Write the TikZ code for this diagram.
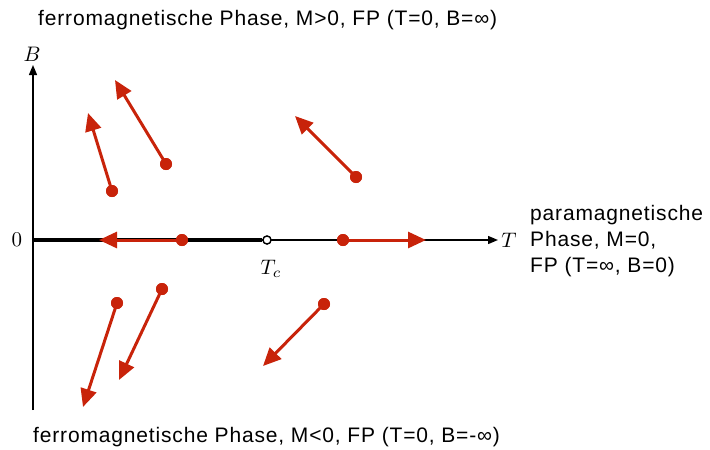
\documentclass[tikz,border=0pt]{standalone}
\usepackage{fontspec}
\setsansfont{Liberation Sans}[LetterSpace=4]
\usetikzlibrary{arrows.meta}
\definecolor{flowred}{RGB}{200,35,10}
\tikzset{
  axis/.style={line width=1.4pt,-{Triangle[length=10pt,width=8pt]}},
  flow/.style={flowred,line width=3pt,-{Triangle[length=18pt,width=16pt]}},
  dot/.style={circle,fill=flowred,inner sep=0pt,minimum size=12pt},
  fixp/.style={circle,draw=black,fill=white,line width=1.3pt,inner sep=0pt,minimum size=8pt},
  lbl/.style={font=\sffamily\fontsize{21}{26}\selectfont,inner sep=0pt},
  mlbl/.style={inner sep=0pt,scale=2.1}
}
\begin{document}
\begin{tikzpicture}[x=1pt,y=-1pt]
\useasboundingbox (0,0) rectangle (710,450);
\coordinate (o) at (33,240);
\coordinate (ytop) at (33,65);
\coordinate (ybot) at (33,410);
\coordinate (xend) at (498,240);
\draw[axis] (ybot) -- (ytop);
\draw[axis] (o) -- (xend);
\node[fixp] (tc) at (267,240) {};
\draw[line width=3.5pt] (o) -- (tc.west);
\node[mlbl] (lB) at (32,54) {$B$};
\node[mlbl] (lT) at (509,240) {$T$};
\node[mlbl] (l0) at (17,240) {$0$};
\node[mlbl] (lTc) at (271,269) {$T_c$};
% flow arrows
\node[dot] (d1) at (112,191) {}; \coordinate (t1) at (88,113);
\node[dot] (d2) at (166,164) {}; \coordinate (t2) at (115,80);
\node[dot] (d3) at (356,177) {}; \coordinate (t3) at (295,116);
\node[dot] (d4) at (182,240) {}; \coordinate (t4) at (99,240);
\node[dot] (d5) at (343,240) {}; \coordinate (t5) at (426,240);
\node[dot] (d6) at (117,303) {}; \coordinate (t6) at (83,407);
\node[dot] (d7) at (162,289) {}; \coordinate (t7) at (119,380);
\node[dot] (d8) at (324,304) {}; \coordinate (t8) at (263,366);
\foreach \i in {1,...,8} \draw[flow] (d\i.center) -- (t\i);
\foreach \i in {1,...,8} \node[dot] at (d\i) {};
\node[fixp] at (tc) {};
% texts
\node[lbl,anchor=west] (top) at (38,20) {ferromagnetische Phase, M>0, FP (T=0, B=∞)};
\node[lbl,anchor=west] (bot) at (33,437) {ferromagnetische Phase, M<0, FP (T=0, B=-∞)};
\node[lbl,anchor=west,align=left] (para) at (530,241) {paramagnetische\\Phase, M=0,\\FP (T=∞, B=0)};
\end{tikzpicture}
\end{document}
